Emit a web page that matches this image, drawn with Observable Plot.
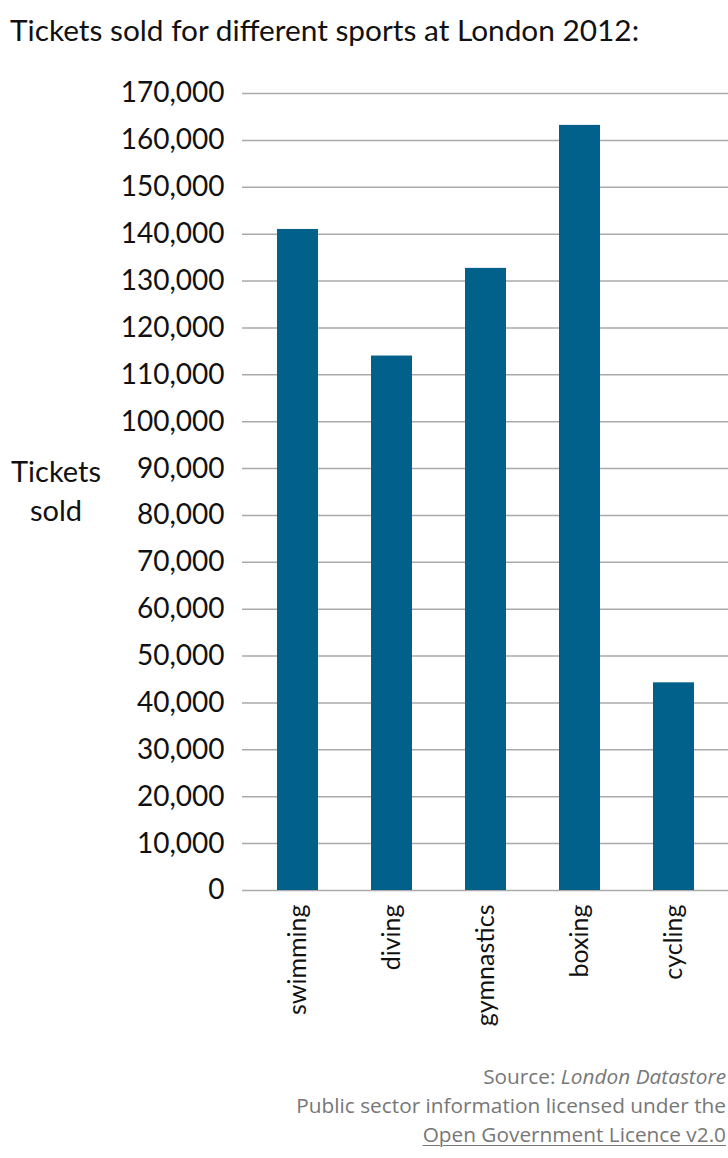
<!DOCTYPE html>
<html>
<head>
<meta charset="utf-8">
<script src="https://cdn.jsdelivr.net/npm/d3@7"></script>
<script src="https://cdn.jsdelivr.net/npm/@observablehq/plot@0.6"></script>
<style>
  html, body { margin: 0; padding: 0; background: #fff; }
  body { width: 728px; height: 1158px; position: relative; overflow: hidden; font-family: Lato, sans-serif; }
  #title { position: absolute; left: 10px; top: 12px; font-size: 29.8px; color: #111; white-space: nowrap; }
  #chart { position: absolute; left: 0; top: 70px; }
  #ylab { position: absolute; left: 0; width: 112px; top: 451px; text-align: center; font-size: 29px; line-height: 39px; color: #111; }
  #caption { position: absolute; right: 2px; top: 1062px; text-align: right; font-family: "Open Sans", sans-serif; font-size: 20.8px; line-height: 29px; color: #777; }
  #caption u { text-decoration-thickness: 1px; text-underline-offset: 3px; }
</style>
</head>
<body>
<div id="title">Tickets sold for different sports at London 2012:</div>
<div id="chart"></div>
<div id="ylab">Tickets<br>sold</div>
<div id="caption">Source: <i>London Datastore</i><br>Public sector information licensed under the<br><u>Open Government Licence v2.0</u></div>
<script>
const sports = ["swimming", "diving", "gymnastics", "boxing", "cycling"];
const tickets = [141000, 114000, 132700, 163200, 44300];
const yTicks = [0, 10000, 20000, 30000, 40000, 50000, 60000, 70000, 80000, 90000, 100000, 110000, 120000, 130000, 140000, 150000, 160000, 170000];

const data = sports.map((s, i) => ({sport: s, tickets: tickets[i]}));

const chart = Plot.plot({
  width: 728,
  height: 960,
  marginLeft: 242,
  marginRight: 0,
  marginTop: 23,
  marginBottom: 140,
  style: {fontFamily: "Lato, sans-serif", fontSize: "28px", color: "#111", background: "#fff"},
  x: {domain: sports, paddingInner: 0.565, paddingOuter: 0.35, label: null},
  y: {domain: [0, 170000], ticks: yTicks, label: null},
  marks: [
    Plot.ruleY(yTicks, {stroke: "#aaa", strokeWidth: 1.5}),
    Plot.barY(data, {x: "sport", y: "tickets", fill: "#02618b"}),
    Plot.axisY({ticks: yTicks, tickSize: 0, tickPadding: 18, tickFormat: d3.format(","), fontSize: 28}),
    Plot.axisX({tickSize: 0, tickRotate: -90, tickPadding: 14, fontSize: 25})
  ]
});
document.getElementById("chart").appendChild(chart);
</script>
</body>
</html>
